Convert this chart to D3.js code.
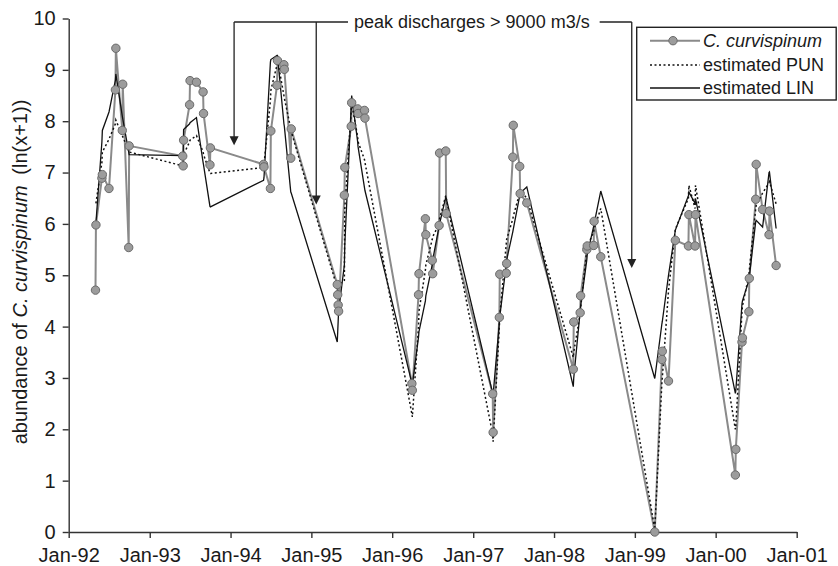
<!DOCTYPE html>
<html><head><meta charset="utf-8">
<script src="https://cdn.jsdelivr.net/npm/d3@7"></script>
<style>
body{margin:0;background:#fff;}
text{font-family:"Liberation Sans",Arial,Helvetica,sans-serif;fill:#1a1a1a;}
</style>
</head><body>
<svg id="chart" width="838" height="566"></svg>
<script>
// ---------------- data ----------------
const dates = [
 "1992-05-01","1992-05-03","1992-05-30","1992-06-01","1992-07-01","1992-07-30","1992-08-01","1992-08-30","1992-09-01","1992-09-28","1992-09-30",
 "1993-05-30","1993-06-01","1993-06-03","1993-06-30","1993-07-02","1993-07-31","1993-08-30","1993-09-01","1993-09-30","1993-10-02",
 "1994-05-30","1994-06-01","1994-06-30","1994-07-02","1994-07-30","1994-08-01","1994-08-30","1994-09-01","1994-09-30","1994-10-02",
 "1995-04-28","1995-04-30","1995-05-02","1995-05-04","1995-05-30","1995-06-01","1995-06-30","1995-07-02","1995-07-29","1995-07-31","1995-08-29","1995-08-31",
 "1996-03-30","1996-04-01","1996-04-29","1996-05-01","1996-05-30","1996-06-01","1996-06-30","1996-07-02","1996-07-31","1996-08-02","1996-08-30","1996-09-01",
 "1997-03-30","1997-04-01","1997-04-29","1997-05-01","1997-05-30","1997-06-01","1997-06-29","1997-07-01","1997-07-30","1997-08-01","1997-08-31",
 "1998-03-29","1998-03-31","1998-04-29","1998-05-01","1998-05-29","1998-05-31","1998-06-29","1998-07-01","1998-07-31",
 "1999-04-01","1999-05-03","1999-05-05","1999-06-02","1999-07-03","1999-08-31","1999-09-02","1999-09-30","1999-10-02",
 "2000-03-30","2000-04-01","2000-04-29","2000-05-01","2000-05-30","2000-06-01","2000-06-30","2000-07-02","2000-07-31","2000-08-29","2000-08-31","2000-09-30"
];
const observed = [
 4.71,5.98,6.89,6.96,6.69,8.61,9.42,7.82,8.72,5.54,7.52,
 7.32,7.13,7.63,8.32,8.79,8.76,8.57,8.15,7.15,7.48,
 7.16,7.11,6.69,7.81,8.70,9.18,9.10,9.01,7.28,7.85,
 4.82,4.62,4.42,4.30,6.56,7.10,7.90,8.36,8.24,8.15,8.21,8.06,
 2.89,2.76,4.62,5.03,6.10,5.79,5.29,5.03,5.97,7.38,7.42,6.20,
 2.69,1.94,4.18,5.02,5.04,5.23,7.30,7.92,7.12,6.59,6.41,
 3.17,4.09,4.27,4.60,5.50,5.57,5.58,6.05,5.36,
 0.00,3.36,3.52,2.94,5.68,5.57,6.18,5.57,6.18,
 1.11,1.61,3.70,3.78,4.29,4.94,6.48,7.16,6.28,5.79,6.25,5.19
];
const estimatedPUN = [
 null,6.40,7.20,7.40,7.65,7.95,8.02,7.72,7.70,7.42,7.40,
 7.13,7.14,7.35,7.60,7.63,7.72,7.40,7.35,6.99,6.98,
 7.10,7.15,8.40,8.60,9.10,9.20,8.50,8.45,7.85,7.80,
 4.75,4.70,4.75,4.80,4.90,6.30,8.20,8.34,7.70,7.60,7.25,7.20,
 2.30,2.24,4.00,4.30,5.10,5.20,5.70,5.75,6.00,6.10,6.55,6.50,
 1.90,1.76,4.00,4.20,5.60,5.70,6.10,6.15,6.60,6.65,6.50,
 3.40,3.50,4.25,4.35,5.50,5.55,5.85,5.90,6.30,
 0.05,2.90,3.00,4.70,5.90,6.50,6.75,6.30,6.75,
 2.00,2.05,4.30,4.40,5.00,5.10,6.30,6.36,6.60,6.80,6.82,6.39
];
const estimatedLIN = [
 null,6.02,7.60,7.82,8.18,8.80,8.92,8.10,8.05,7.40,7.35,
 7.33,7.34,7.84,7.95,7.97,8.07,7.20,7.15,6.34,6.33,
 6.85,6.90,9.15,9.20,9.28,9.28,7.95,7.90,6.62,6.60,
 3.70,3.90,4.10,4.30,5.20,5.60,8.30,8.50,7.60,7.50,6.70,6.65,
 2.90,2.86,3.80,3.90,4.50,4.60,5.20,5.30,5.95,6.00,6.52,6.50,
 2.70,2.68,4.07,4.20,5.20,5.30,5.85,5.90,6.55,6.60,6.72,
 2.83,3.00,4.30,4.40,5.30,5.40,5.95,6.00,6.64,
 2.99,4.05,4.10,5.00,5.88,6.55,6.62,6.40,6.49,
 2.70,2.75,4.45,4.50,4.90,4.97,6.05,6.07,5.94,7.00,7.01,5.91
];
const xTickDates = ["1992-01-01","1993-01-01","1994-01-01","1995-01-01","1996-01-01","1997-01-01","1998-01-01","1999-01-01","2000-01-01","2001-01-01"];
const yTickValues = [0,1,2,3,4,5,6,7,8,9,10];
const peakDates = ["1994-01-17","1995-01-23","1998-12-18"];
const peakArrowTips = [7.53, 6.38, 5.14];
const annotationText = "peak discharges > 9000 m3/s";
const legendLabels = ["C. curvispinum","estimated PUN","estimated LIN"];

// ---------------- chart ----------------
(function(){
const parse = d3.timeParse("%Y-%m-%d");
const svg = d3.select("#chart");
const pLeft = 68.7, pRight = 796.7, pTop = 18.5, pBottom = 532;

const x = d3.scaleTime().domain([parse(xTickDates[0]), parse(xTickDates[xTickDates.length-1])]).range([pLeft, pRight]);
const y = d3.scaleLinear().domain([0,10]).range([pBottom, pTop]);

const rows = dates.map((d,i)=>({date:parse(d), obs:observed[i], pun:estimatedPUN[i], lin:estimatedLIN[i]}));

// axes
const axisColor = "#333";
const gy = svg.append("g").attr("transform",`translate(${pLeft},0)`)
  .call(d3.axisLeft(y).tickValues(yTickValues).tickFormat(d3.format("d")).tickSize(6).tickSizeOuter(0).tickPadding(7));
const gx = svg.append("g").attr("transform",`translate(0,${pBottom})`)
  .call(d3.axisBottom(x).tickValues(xTickDates.map(parse)).tickFormat(d3.timeFormat("%b-%y")).tickSize(6).tickSizeOuter(0).tickPadding(10));
[gx,gy].forEach(g=>{
  g.select(".domain").attr("stroke",axisColor).attr("stroke-width",1.4);
  g.selectAll(".tick line").attr("stroke",axisColor).attr("stroke-width",1.4);
  g.selectAll("text").attr("font-size",20).attr("fill","#1a1a1a").attr("font-family","Liberation Sans, Arial, sans-serif");
});

// y title
const yt = svg.append("text")
  .attr("transform","translate(27,272) rotate(-90)")
  .attr("text-anchor","middle").attr("font-size",20);
yt.append("tspan").text("abundance of ");
yt.append("tspan").attr("font-style","italic").text("C. curvispinum");
yt.append("tspan").attr("dx",5).text(" (ln(x+1))");

// series
const lineOf = key => d3.line().defined(d=>d[key]!==null).x(d=>x(d.date)).y(d=>y(d[key]));
svg.append("path").datum(rows).attr("fill","none").attr("stroke","#8a8a8a").attr("stroke-width",2).attr("d",lineOf("obs"));
svg.append("path").datum(rows).attr("fill","none").attr("stroke","#111").attr("stroke-width",1.5).attr("stroke-dasharray","2,2.5").attr("d",lineOf("pun"));
svg.append("path").datum(rows).attr("fill","none").attr("stroke","#111").attr("stroke-width",1.3).attr("d",lineOf("lin"));
svg.append("g").selectAll("circle").data(rows).join("circle")
  .attr("cx",d=>x(d.date)).attr("cy",d=>y(d.obs)).attr("r",4.2)
  .attr("fill","#9c9c9c").attr("stroke","#6a6a6a").attr("stroke-width",1);

// annotation
const annY = 22;
const ann = svg.append("text").attr("x",354).attr("y",annY).attr("dy","0.35em").attr("font-size",18).text(annotationText);
const annEnd = 354 + ann.node().getComputedTextLength();
const px = peakDates.map(d=>x(parse(d)));
const ag = svg.append("g").attr("stroke","#222").attr("stroke-width",1.3).attr("fill","none");
ag.append("line").attr("x1",px[0]).attr("x2",348).attr("y1",annY).attr("y2",annY);
ag.append("line").attr("x1",annEnd+10).attr("x2",px[2]).attr("y1",annY).attr("y2",annY);
px.forEach((cx,i)=>{
  const tip = y(peakArrowTips[i]);
  ag.append("line").attr("x1",cx).attr("x2",cx).attr("y1",annY).attr("y2",tip-8);
  svg.append("path").attr("d",`M${cx-4.5},${tip-9}L${cx+4.5},${tip-9}L${cx},${tip}Z`).attr("fill","#222");
});

// legend
const lg = svg.append("g");
lg.append("rect").attr("x",636.7).attr("y",27.3).attr("width",199.5).attr("height",72.7)
  .attr("fill","#fff").attr("stroke","#222").attr("stroke-width",1.4);
const ly = [40.7,65,88];
lg.append("line").attr("x1",650).attr("x2",700).attr("y1",ly[0]).attr("y2",ly[0]).attr("stroke","#8a8a8a").attr("stroke-width",2);
lg.append("circle").attr("cx",673).attr("cy",ly[0]).attr("r",4.2).attr("fill","#9c9c9c").attr("stroke","#6a6a6a");
lg.append("line").attr("x1",650).attr("x2",700).attr("y1",ly[1]).attr("y2",ly[1]).attr("stroke","#111").attr("stroke-width",1.5).attr("stroke-dasharray","2,2.5");
lg.append("line").attr("x1",650).attr("x2",700).attr("y1",ly[2]).attr("y2",ly[2]).attr("stroke","#111").attr("stroke-width",1.3);
legendLabels.forEach((t,i)=>{
  lg.append("text").attr("x",703).attr("y",ly[i]).attr("dy","0.35em").attr("font-size",18)
    .attr("font-style",i===0?"italic":"normal").text(t);
});
})();
</script>
</body></html>
